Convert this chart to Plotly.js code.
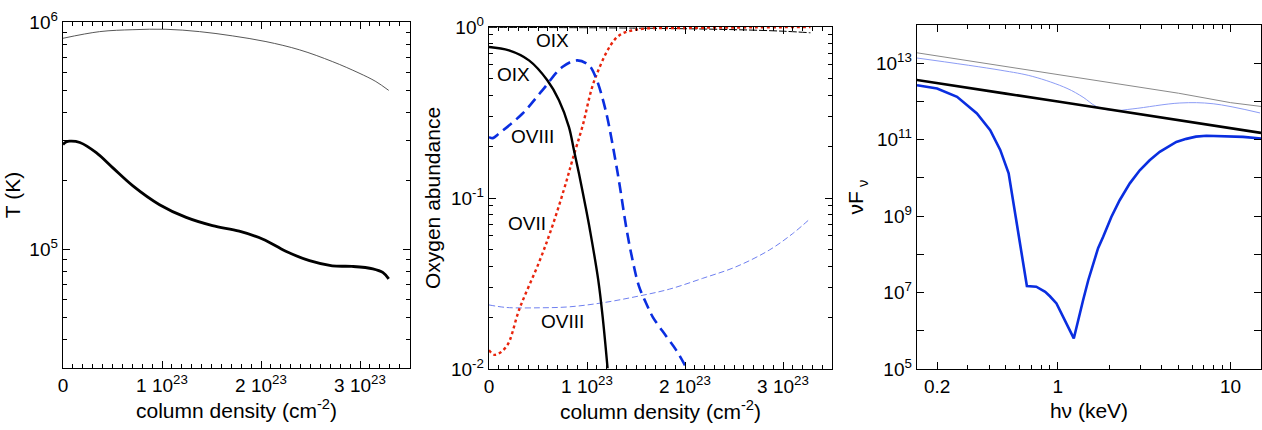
<!DOCTYPE html>
<html>
<head>
<meta charset="utf-8">
<script src="https://cdn.plot.ly/plotly-3.0.1.min.js"></script>
<style>html,body{margin:0;padding:0;background:#fff}#chart{width:1262px;height:430px}</style>
</head>
<body>
<div id="chart"></div>
<script>
// ---------- Panel 1: temperature vs column density ----------
const tHotN = [0, 0.37e23, 0.706e23, 1.04e23, 1.38e23, 1.71e23, 2.05e23, 2.39e23, 2.72e23, 2.99e23, 3.16e23, 3.29e23];
const tHotT = [8.48e5, 9.07e5, 9.25e5, 9.29e5, 9.07e5, 8.69e5, 8.2e5, 7.54e5, 6.70e5, 5.96e5, 5.47e5, 5.0e5];
const tWarmN = [0, 0.03e23, 0.067e23, 0.17e23, 0.336e23, 0.504e23, 0.706e23, 0.975e23, 1.244e23, 1.51e23, 1.78e23, 2.02e23, 2.25e23, 2.49e23, 2.72e23, 2.92e23, 3.13e23, 3.23e23, 3.29e23];
const tWarmT = [2.89e5, 2.96e5, 2.99e5, 2.95e5, 2.66e5, 2.28e5, 1.90e5, 1.57e5, 1.38e5, 1.27e5, 1.20e5, 1.107e5, 9.8e4, 8.9e4, 8.45e4, 8.4e4, 8.2e4, 7.9e4, 7.4e4];

// ---------- Panel 2: oxygen ion abundances ----------
const oixN = [0, 0.204e23, 0.408e23, 0.595e23, 0.714e23, 0.816e23, 0.867e23, 0.918e23, 0.986e23, 1.03e23, 1.115e23, 1.163e23, 1.21e23];
const oixA = [0.764, 0.73, 0.638, 0.488, 0.373, 0.26, 0.19, 0.139, 0.0886, 0.065, 0.0331, 0.0194, 0.0101];
const oviiiN = [0, 0.04e23, 0.102e23, 0.34e23, 0.544e23, 0.748e23, 0.90e23, 1.02e23, 1.088e23, 1.19e23, 1.29e23, 1.33e23, 1.405e23, 1.47e23, 1.53e23, 1.60e23, 1.67e23, 1.81e23, 1.91e23, 2.0e23];
const oviiiA = [0.227, 0.224, 0.238, 0.311, 0.426, 0.583, 0.638, 0.597, 0.51, 0.326, 0.166, 0.122, 0.065, 0.042, 0.0305, 0.0245, 0.0202, 0.0155, 0.0129, 0.0105];
const oviiN = [0, 0.058e23, 0.177e23, 0.312e23, 0.52e23, 0.656e23, 0.793e23, 0.85e23, 0.952e23, 1.088e23, 1.31e23, 1.50e23, 2.01e23, 2.7e23, 3.28e23];
const oviiA = [0.0129, 0.0121, 0.0135, 0.0226, 0.0434, 0.0711, 0.127, 0.166, 0.26, 0.51, 0.875, 0.964, 0.987, 0.995, 1.0];
const oixThinN = [0, 1.5e23, 2.5e23, 3.0e23, 3.28e23];
const oixThinA = [0.995, 0.985, 0.965, 0.945, 0.925];
const oviiiThinN = [0, 0.177e23, 0.52e23, 0.82e23, 1.16e23, 1.50e23, 1.84e23, 2.18e23, 2.52e23, 2.86e23, 3.10e23, 3.28e23];
const oviiiThinA = [0.0237, 0.0229, 0.0228, 0.0231, 0.0244, 0.0265, 0.0293, 0.0339, 0.0396, 0.0496, 0.062, 0.076];
const ionLabels = ["OIX", "OIX", "OVIII", "OVII", "OVIII"];
const ionLabelN = [0.65e23, 0.245e23, 0.44e23, 0.39e23, 0.755e23];
const ionLabelA = [0.83, 0.53, 0.23, 0.0714, 0.019];

// ---------- Panel 3: spectra ----------
const incE = [0.15, 0.2, 0.5, 1, 2, 5, 10, 15];
const incF = [1.9e13, 1.55e13, 8.2e12, 5.0e12, 3.1e12, 1.64e12, 9.3e11, 7.4e11];
const thinE = [0.151, 0.463, 0.716, 1.13, 1.40, 1.67, 2.08, 2.72, 5.08, 7.93, 14.8];
const thinF = [1.38e13, 6.6e12, 4.5e12, 2.2e12, 1.29e12, 7.4e11, 5.8e11, 6.4e11, 9.1e11, 8.7e11, 5.0e11];
const contE = [0.15, 0.2, 0.5, 1, 2, 5, 10, 15];
const contF = [3.7e12, 3.0e12, 1.6e12, 1.0e12, 6.2e11, 3.3e11, 2.0e11, 1.5e11];
const absE = [0.153, 0.2, 0.261, 0.34, 0.406, 0.464, 0.519, 0.662, 0.75, 0.845, 0.9, 0.982, 1.237, 1.31, 1.40, 1.50, 1.60, 1.71, 1.83, 2.04, 2.28, 2.61, 2.98, 3.40, 3.89, 4.85, 5.54, 6.3, 7.24, 8.26, 11.8, 15.1];
const absF = [2.66e12, 2.18e12, 1.32e12, 4.84e11, 1.78e11, 5.4e10, 1.32e10, 1.48e7, 1.42e7, 1.05e7, 8.0e6, 5.2e6, 6.3e5, 1.9e6, 6.3e6, 2.1e7, 5.7e7, 1.45e8, 2.9e8, 9.5e8, 2.6e9, 7.2e9, 1.58e10, 2.9e10, 4.8e10, 8.7e10, 1.05e11, 1.2e11, 1.27e11, 1.25e11, 1.18e11, 1.07e11];

// tick definitions
const nTickVals = [0, 1e23, 2e23, 3e23];
const nTickText = ["0", "1 10<sup>23</sup>", "2 10<sup>23</sup>", "3 10<sup>23</sup>"];
const nMinor = [];
for (let i = 1; i <= 34; i++) { if (i % 10 !== 0) nMinor.push(i * 1e22); }
const tTickVals = [1e5, 1e6];
const tTickText = ["10<sup>5</sup>", "10<sup>6</sup>"];
const tMinor = [4e4, 5e4, 6e4, 7e4, 8e4, 9e4, 2e5, 3e5, 4e5, 5e5, 6e5, 7e5, 8e5, 9e5];
const aTickVals = [0.01, 0.1, 1];
const aTickText = ["10<sup>-2</sup>", "10<sup>-1</sup>", "10<sup>0</sup>"];
const aMinor = [0.02, 0.03, 0.04, 0.05, 0.06, 0.07, 0.08, 0.09, 0.2, 0.3, 0.4, 0.5, 0.6, 0.7, 0.8, 0.9];
const eTickVals = [0.2, 1, 10];
const eTickText = ["0.2", "1", "10"];
const eMinor = [0.3, 0.4, 0.5, 0.6, 0.7, 0.8, 0.9, 2, 3, 4, 5, 6, 7, 8, 9];
const fTickVals = [1e5, 1e6, 1e7, 1e8, 1e9, 1e10, 1e11, 1e12, 1e13, 1e14];
const fTickText = ["10<sup>5</sup>", "", "10<sup>7</sup>", "", "10<sup>9</sup>", "", "10<sup>11</sup>", "", "10<sup>13</sup>", ""];

const FONT = "Liberation Sans, Arial, Helvetica, sans-serif";
const TICK = 19, TITLE = 21, LABEL = 19;
function minorTicks(vals) {
  return {ticks: "inside", ticklen: 4, tickwidth: 1, tickcolor: "#000", showgrid: false, tickvals: vals};
}
function ax(extra) {
  return Object.assign({
    showgrid: false, zeroline: false, showline: true, linecolor: "#000", linewidth: 1.3,
    mirror: "allticks", ticks: "inside", ticklen: 7, tickwidth: 1, tickcolor: "#000",
    tickfont: {family: FONT, size: TICK, color: "#000"}, fixedrange: true
  }, extra);
}

const traces = [
  {x: tHotN, y: tHotT, xaxis: "x", yaxis: "y", mode: "lines", line: {color: "#444", width: 0.9, shape: "spline"}},
  {x: tWarmN, y: tWarmT, xaxis: "x", yaxis: "y", mode: "lines", line: {color: "#000", width: 2.8, shape: "spline"}},

  {x: oviiiThinN, y: oviiiThinA, xaxis: "x2", yaxis: "y2", mode: "lines", line: {color: "#6f80f0", width: 1, dash: "6px,3px", shape: "spline"}},
  {x: oixThinN, y: oixThinA, xaxis: "x2", yaxis: "y2", mode: "lines", line: {color: "#000", width: 1, dash: "8px,2px", shape: "spline"}},
  {x: oviiN, y: oviiA, xaxis: "x2", yaxis: "y2", mode: "lines", line: {color: "#e8240c", width: 2.4, dash: "dot", shape: "spline"}},
  {x: oviiiN, y: oviiiA, xaxis: "x2", yaxis: "y2", mode: "lines", line: {color: "#0a2ee0", width: 2.6, dash: "11px,6px", shape: "spline"}},
  {x: oixN, y: oixA, xaxis: "x2", yaxis: "y2", mode: "lines", line: {color: "#000", width: 2.4, shape: "spline"}},

  {x: incE, y: incF, xaxis: "x3", yaxis: "y3", mode: "lines", line: {color: "#8a8a8a", width: 1}},
  {x: thinE, y: thinF, xaxis: "x3", yaxis: "y3", mode: "lines", line: {color: "#8c9cf5", width: 1, shape: "spline"}},
  {x: contE, y: contF, xaxis: "x3", yaxis: "y3", mode: "lines", line: {color: "#000", width: 2.6}},
  {x: absE, y: absF, xaxis: "x3", yaxis: "y3", mode: "lines", line: {color: "#0a2ee0", width: 2.6}}
];

const annotations = ionLabels.map((t, i) => ({
  text: t, x: ionLabelN[i], y: Math.log10(ionLabelA[i]), xref: "x2", yref: "y2",
  showarrow: false, font: {family: FONT, size: LABEL, color: "#000"}, xanchor: "center", yanchor: "middle"
}));

const layout = {
  width: 1262, height: 430, showlegend: false,
  paper_bgcolor: "#fff", plot_bgcolor: "#fff",
  margin: {l: 0, r: 0, t: 0, b: 0},
  font: {family: FONT, size: TICK, color: "#000"},
  xaxis: ax({domain: [63/1262, 410/1262], anchor: "y", range: [0, 3.505e23],
    tickvals: nTickVals, ticktext: nTickText, minor: minorTicks(nMinor),
    title: {text: "column density (cm<sup>-2</sup>)", font: {family: FONT, size: TITLE}, standoff: 7}}),
  yaxis: ax({domain: [(430-368)/430, (430-22)/430], anchor: "x", type: "log", range: [Math.log10(3e4), 6],
    tickvals: tTickVals, ticktext: tTickText, minor: minorTicks(tMinor),
    title: {text: "T (K)", font: {family: FONT, size: TITLE}, standoff: 3}}),
  xaxis2: ax({domain: [489/1262, 832/1262], anchor: "y2", range: [0, 3.5e23],
    tickvals: nTickVals, ticktext: nTickText, minor: minorTicks(nMinor),
    title: {text: "column density (cm<sup>-2</sup>)", font: {family: FONT, size: TITLE}, standoff: 7}}),
  yaxis2: ax({domain: [(430-369)/430, (430-27)/430], anchor: "x2", type: "log", range: [-2, 0],
    tickvals: aTickVals, ticktext: aTickText, minor: minorTicks(aMinor),
    title: {text: "Oxygen abundance", font: {family: FONT, size: TITLE}, standoff: 4}}),
  xaxis3: ax({domain: [917/1262, 1261/1262], anchor: "y3", type: "log", range: [Math.log10(0.153), Math.log10(15)],
    tickvals: eTickVals, ticktext: eTickText, minor: minorTicks(eMinor),
    title: {text: "hν (keV)", font: {family: FONT, size: TITLE}, standoff: 7}}),
  yaxis3: ax({domain: [(430-369)/430, (430-25)/430], anchor: "x3", type: "log", range: [5, 14],
    tickvals: fTickVals, ticktext: fTickText,
    title: {text: "νF<sub> ν</sub>", font: {family: FONT, size: TITLE}, standoff: 6}}),
  annotations: annotations
};

Plotly.newPlot("chart", traces, layout, {staticPlot: true, displayModeBar: false});
</script>
</body>
</html>
